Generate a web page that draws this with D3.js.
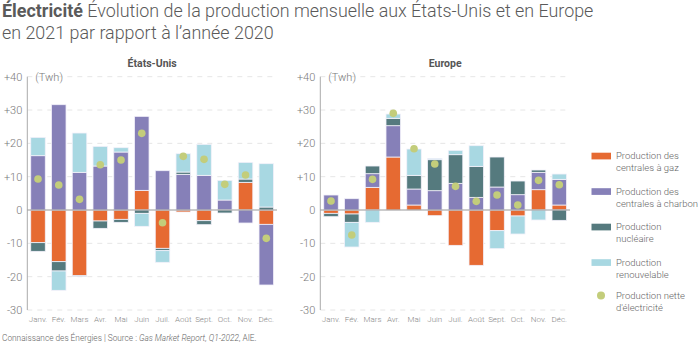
<!DOCTYPE html>
<html><head><meta charset="utf-8">
<script src="https://cdn.jsdelivr.net/npm/d3@7"></script>
<style>
body{margin:0;background:#fff;}
svg{display:block;font-family:Roboto,"Noto Sans",sans-serif;}
</style></head>
<body>
<svg id="c" width="700" height="344"></svg>
<script>
const months = ["Janv.","Fév.","Mars","Avr.","Mai","Juin","Juil.","Août","Sept.","Oct.","Nov.","Déc."];
const yTicks = [40,30,20,10,0,-10,-20,-30];
const seriesKeys = ["gas","coal","nuclear","renew"];
const seriesLabels = [["Production des","centrales à gaz"],["Production des","centrales à charbon"],["Production","nucléaire"],["Production","renouvelable"]];
const netLabel = ["Production nette","d'électricité"];
const seriesColors = ["#e66a32","#8680b8","#557a7e","#a8d8e2"];
const netColor = "#c3cd7b";

// États-Unis
const usGas     = [-9.8,-15.5,-19.7,-3.3,-2.8,5.9,-11.5,-0.6,-3.2,0,8.3,-4.3];
const usCoal    = [16.3,31.6,11.3,13.2,17.4,22.2,11.8,10.7,10.4,3.0,-3.9,-18.2];
const usNuclear = [-2.6,-2.8,-0.2,-2.2,-0.9,-1.0,-0.7,0.7,-1.2,-0.9,1.0,0.9];
const usRenew   = [5.5,-5.8,11.8,5.9,1.3,-3.9,-3.5,5.5,9.3,5.9,5.0,13.0];
const usNet     = [9.3,7.5,3.2,13.6,15.0,23.0,-3.8,16.1,15.2,7.7,10.5,-8.5];

// Europe
const euGas     = [-1.0,-1.2,6.8,15.9,1.5,-1.7,-10.6,-16.6,-6.2,-1.8,6.1,1.5];
const euCoal    = [4.5,3.4,4.1,9.4,4.8,5.8,8.0,3.8,6.9,4.6,5.2,7.7];
const euNuclear = [-1.0,-2.5,2.3,2.2,4.1,9.3,8.6,9.3,9.0,4.1,0.7,-3.1];
const euRenew   = [0,-7.4,-3.7,1.3,7.9,0.4,1.3,6.2,-5.4,-5.4,-3.0,1.6];
const euNet     = [2.7,-7.5,9.2,29.0,18.4,13.8,7.1,2.6,4.5,1.5,8.9,7.6];

const svg = d3.select("#c");

// Title
const t = svg.append("text").attr("x",2).attr("y",17).attr("font-size",17.9).attr("fill","#5a5a5a");
t.append("tspan").attr("font-weight",700).text("Électricité");
t.append("tspan").attr("font-weight",300).text(" Évolution de la production mensuelle aux États-Unis et en Europe");
svg.append("text").attr("x",2).attr("y",39).attr("font-size",17.9).attr("font-weight",300).attr("fill","#5a5a5a")
  .text("en 2021 par rapport à l’année 2020");

const y = d3.scaleLinear().domain([-30,40]).range([310,76.7]);

function panel(x0, x1, title, gas, coal, nuclear, renew, net){
  const g = svg.append("g");
  const x = d3.scaleBand().domain(months).range([x0,x1]).paddingInner(0.3).paddingOuter(0.166);
  // grid
  g.selectAll("line.grid").data(yTicks.filter(d=>d!==0)).join("line")
    .attr("x1",x0).attr("x2",x1).attr("y1",d=>y(d)).attr("y2",d=>y(d))
    .attr("stroke","#e6e6e6").attr("stroke-dasharray","5,5").attr("stroke-width",1);
  // y labels
  g.selectAll("text.yl").data(yTicks).join("text")
    .attr("x",x0-5).attr("y",d=>y(d)+4).attr("text-anchor","end")
    .attr("font-size",11).attr("fill","#7a7a7a").attr("font-weight",300)
    .text(d=>d>0?"+"+d:(d<0?"-"+Math.abs(d):"0"));
  g.append("text").attr("x",x0+8).attr("y",y(40)+4).attr("font-size",11).attr("font-weight",300).attr("fill","#7a7a7a").text("(Twh)");
  g.append("text").attr("x",(x0+x1)/2).attr("y",67).attr("text-anchor","middle").attr("font-size",10.5).attr("font-weight",700).attr("fill","#555").text(title);
  // axis line
  g.append("line").attr("x1",x0).attr("x2",x0).attr("y1",y(40)).attr("y2",y(-30)).attr("stroke","#aaa").attr("stroke-width",1);
  // stack
  const rows = months.map((m,i)=>({m, gas:gas[i], coal:coal[i], nuclear:nuclear[i], renew:renew[i]}));
  const stacked = d3.stack().keys(seriesKeys).offset(d3.stackOffsetDiverging)(rows);
  stacked.forEach((s,k)=>{
    g.selectAll(null).data(s.filter(d=>d[1]!==d[0])).join("rect")
      .attr("x",d=>x(d.data.m)).attr("width",x.bandwidth())
      .attr("y",d=>y(Math.max(d[0],d[1]))).attr("height",d=>Math.abs(y(d[0])-y(d[1])))
      .attr("fill",seriesColors[k]).attr("stroke","#f3f1fa").attr("stroke-width",0.8);
  });
  // zero line
  g.append("line").attr("x1",x0).attr("x2",x1).attr("y1",y(0)).attr("y2",y(0)).attr("stroke","#999").attr("stroke-width",1);
  // points
  g.selectAll("circle").data(net).join("circle")
    .attr("cx",(d,i)=>x(months[i])+x.bandwidth()/2).attr("cy",d=>y(d)).attr("r",3.8).attr("fill",netColor);
  // x labels
  g.selectAll("text.xl").data(months).join("text")
    .attr("x",d=>x(d)+x.bandwidth()/2).attr("y",322).attr("text-anchor","middle")
    .attr("font-size",8).attr("font-weight",300).attr("fill","#888").text(d=>d);
}

panel(27.3, 277, "États-Unis", usGas, usCoal, usNuclear, usRenew, usNet);
panel(320.3, 570, "Europe", euGas, euCoal, euNuclear, euRenew, euNet);

// Legend
const lg = svg.append("g");
seriesKeys.forEach((k,i)=>{
  const yy = 152.7 + i*35.5;
  lg.append("rect").attr("x",591.5).attr("y",yy).attr("width",19.5).attr("height",6.7).attr("fill",seriesColors[i]);
  seriesLabels[i].forEach((l,j)=>{
    lg.append("text").attr("x",616).attr("y",yy+6.5+j*12).attr("font-size",9.5).attr("font-weight",300).attr("fill","#666").text(l);
  });
});
lg.append("circle").attr("cx",601).attr("cy",295.5).attr("r",4).attr("fill",netColor);
netLabel.forEach((l,j)=>{
  lg.append("text").attr("x",616).attr("y",299+j*12).attr("font-size",9.5).attr("font-weight",300).attr("fill","#666").text(l);
});

// Footer
const f = svg.append("text").attr("x",2).attr("y",341).attr("font-size",8.3).attr("font-weight",300).attr("fill","#666");
f.append("tspan").text("Connaissance des Énergies | Source : ");
f.append("tspan").attr("font-style","italic").text("Gas Market Report, Q1-2022");
f.append("tspan").text(", AIE.");
</script>
</body></html>
